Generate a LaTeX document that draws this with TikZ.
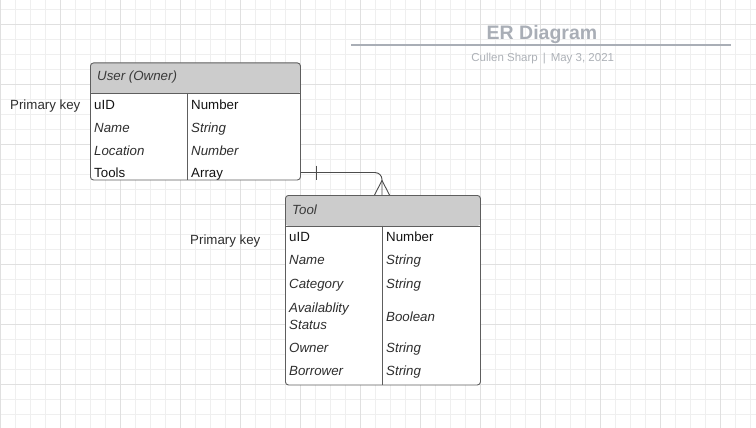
\documentclass[tikz,border=0pt]{standalone}
\usepackage{fontspec}
\setmainfont{Liberation Sans}
\usetikzlibrary{positioning}

\definecolor{gridminor}{HTML}{EFEFEF}
\definecolor{gridmajor}{HTML}{E0E0E0}
\definecolor{boxline}{HTML}{5E5E5E}
\definecolor{headfill}{HTML}{CCCCCC}
\definecolor{headtext}{HTML}{3A3A3A}
\definecolor{titlegray}{HTML}{A9AEB6}
\definecolor{subgray}{HTML}{ADB1B7}

\begin{document}
\begin{tikzpicture}[
			x=1pt, y=-1pt,
			% Define styles for nodes
			entity/.style={draw=boxline, line width=0.9pt, fill=white, rounded corners=3pt, anchor=north west, inner sep=0pt,
					path picture={
							\fill[headfill] (path picture bounding box.north west) rectangle ([yshift=-30.5pt]path picture bounding box.north east);
							\draw[boxline, line width=0.9pt] ([yshift=-30.5pt]path picture bounding box.north west) -- ([yshift=-30.5pt]path picture bounding box.north east);
						}},
			head/.style={anchor=base west, inner sep=0pt, text=headtext, font=\fontsize{13.3}{16.4}\selectfont\itshape},
			field/.style={anchor=base west, inner sep=0pt, text=black!92, font=\fontsize{13.3}{16.4}\selectfont},
			ifield/.style={field, font=\fontsize{13.3}{16.4}\selectfont\itshape, text=black!82},
			keynote/.style={anchor=base west, inner sep=0pt, text=black!82, font=\fontsize{13.3}{16.4}\selectfont},
			divider/.style={draw=boxline, line width=0.9pt},
			conn/.style={draw=black!70, line width=0.9pt}
		]

		\useasboundingbox (0,0) rectangle (756,428);

		% Grid
		\foreach \x in {0,15,...,755} \draw[gridminor, line width=0.8pt] (\x,0) -- (\x,428);
		\foreach \y in {9.3,24.3,...,425} \draw[gridminor, line width=0.8pt] (0,\y) -- (756,\y);
		\foreach \x in {0,60,...,755} \draw[gridmajor, line width=0.8pt] (\x,0) -- (\x,428);
		\foreach \y in {24.3,84.3,...,425} \draw[gridmajor, line width=0.8pt] (0,\y) -- (756,\y);

		% Title block
		\node[anchor=base, inner sep=0pt, text=titlegray, font=\fontsize{19.5}{23}\selectfont\bfseries] (title) at (542,39.3) {ER Diagram};
		\draw[titlegray, line width=1.1pt] (351,45) -- (731,45);
		\node[anchor=base, inner sep=0pt, text=subgray, font=\fontsize{11.5}{13}\selectfont] (author) at (542.7,61.7) {Cullen Sharp\hspace{5pt}|\hspace{5pt}May 3, 2021};

		% User table
		\node[entity, minimum width=210pt, minimum height=117pt] (user) at (90,62.5) {};
		\draw[divider] ([xshift=97pt,yshift=-30.5pt]user.north west) -- ([xshift=97pt]user.south west);
		\node[head] (user-head) at (97,81) {User (Owner)};
		\node[field] (u-id) at (94,109.3) {uID};
		\node[field] (u-idtype) at (191,109.3) {Number};
		\node[ifield] (u-name) at (94,132.3) {Name};
		\node[ifield] (u-nametype) at (191,132.3) {String};
		\node[ifield] (u-loc) at (94,155.7) {Location};
		\node[ifield] (u-loctype) at (191,155.7) {Number};
		\node[field] (u-tools) at (94,177.3) {Tools};
		\node[field] (u-toolstype) at (191,177.3) {Array};
		\node[keynote] (u-key) at (10,109.3) {Primary key};

		% Tool table
		\node[entity, minimum width=195pt, minimum height=189.5pt] (tool) at (285,195) {};
		\draw[divider] ([xshift=97pt,yshift=-30.5pt]tool.north west) -- ([xshift=97pt]tool.south west);
		\node[head] (tool-head) at (292,214) {Tool};
		\node[field] (t-id) at (289,241.3) {uID};
		\node[field] (t-idtype) at (386,241.3) {Number};
		\node[ifield] (t-name) at (289,264.7) {Name};
		\node[ifield] (t-nametype) at (386,264.7) {String};
		\node[ifield] (t-cat) at (289,288.3) {Category};
		\node[ifield] (t-cattype) at (386,288.3) {String};
		\node[ifield, anchor=north west, align=left] (t-status) at (289,303) {Availablity\\Status};
		\node[ifield] (t-statustype) at (386,321) {Boolean};
		\node[ifield] (t-owner) at (289,352.3) {Owner};
		\node[ifield] (t-ownertype) at (386,352.3) {String};
		\node[ifield] (t-borrower) at (289,375.7) {Borrower};
		\node[ifield] (t-borrowertype) at (386,375.7) {String};
		\node[keynote] (t-key) at (190,244) {Primary key};

		% Relation: one user owns many tools
		\coordinate (rel-end) at ([xshift=97pt]tool.north west);
		\draw[conn, rounded corners=7pt] (u-tools.center -| user.east) -| (rel-end);
		\draw[conn] ([xshift=16pt]u-tools.center -| user.east) ++(0,-7) -- ++(0,14);
		\draw[conn] ([xshift=-7.5pt]rel-end) -- ([yshift=14.5pt]rel-end) -- ([xshift=7.5pt]rel-end);
	\end{tikzpicture}
\end{document}
